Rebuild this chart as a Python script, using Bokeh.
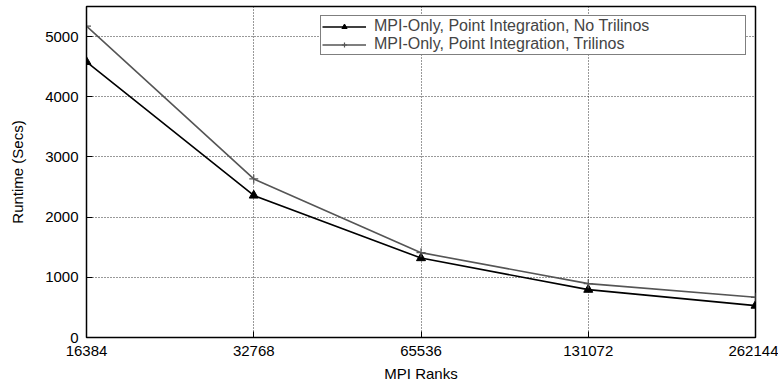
from bokeh.plotting import figure
from bokeh.models import FixedTicker, Legend, LegendItem, Range1d
from bokeh.embed import file_html
from bokeh.resources import INLINE

ranks = [16384, 32768, 65536, 131072, 262144]
no_trilinos = [4580, 2360, 1320, 795, 530]
trilinos = [5175, 2635, 1410, 895, 668]
y_ticks = [0, 1000, 2000, 3000, 4000, 5000]

FONT = "Liberation Sans"

p = figure(width=778, height=387, x_axis_type="log", output_backend="svg",
           toolbar_location=None, min_border_left=86, min_border_right=23,
           min_border_top=6, min_border_bottom=50)
p.x_range = Range1d(16384, 262144)
p.y_range = Range1d(0, 5500)
p.xaxis.ticker = FixedTicker(ticks=ranks)
p.xaxis.major_label_overrides = {r: str(r) for r in ranks}
p.yaxis.ticker = FixedTicker(ticks=y_ticks)

for ax in (p.xaxis[0], p.yaxis[0]):
    ax.axis_line_color = "black"
    ax.major_tick_line_color = "black"
    ax.major_tick_in = 6
    ax.major_tick_out = 0
    ax.minor_tick_line_color = None
    ax.major_label_text_font = FONT
    ax.major_label_text_font_size = "15px"
    ax.major_label_text_color = "black"
    ax.axis_label_text_font = FONT
    ax.axis_label_text_font_size = "15px"
    ax.axis_label_text_font_style = "normal"
    ax.axis_label_text_color = "black"
p.xaxis.axis_label = "MPI Ranks"
p.yaxis.axis_label = "Runtime (Secs)"
p.xaxis.major_label_standoff = 8
p.yaxis.major_label_standoff = 8
p.xaxis.axis_label_standoff = 6
p.yaxis.axis_label_standoff = 16

p.outline_line_color = "black"
p.outline_line_width = 1.5
p.xgrid.grid_line_color = "black"
p.ygrid.grid_line_color = "black"
p.xgrid.grid_line_dash = "1 2"
p.ygrid.grid_line_dash = "1 2"
p.xgrid.grid_line_alpha = 0.8
p.ygrid.grid_line_alpha = 0.8

l1 = p.line(ranks, no_trilinos, line_color="black", line_width=1.6)
m1 = p.scatter(ranks, no_trilinos, marker="triangle", size=9, fill_color="black",
               line_color="black")
l2 = p.line(ranks, trilinos, line_color="#555555", line_width=1.6)
m2 = p.scatter(ranks, trilinos, marker="cross", size=9, line_color="#555555",
               line_width=1.2)

legend = Legend(items=[
    LegendItem(label="MPI-Only, Point Integration, No Trilinos", renderers=[l1, m1]),
    LegendItem(label="MPI-Only, Point Integration, Trilinos", renderers=[l2, m2]),
], location="top_right")
legend.label_text_font = FONT
legend.label_text_font_size = "16px"
legend.label_text_line_height = 0.8
legend.border_line_color = "black"
legend.border_line_width = 1
legend.background_fill_alpha = 1
legend.padding = 1
legend.spacing = 0
legend.margin = 9
legend.glyph_width = 44
legend.label_standoff = 8
legend.label_width = 370
legend.label_height = 13
legend.glyph_height = 13
p.add_layout(legend)

open("out.html", "w").write(file_html(p, INLINE))
